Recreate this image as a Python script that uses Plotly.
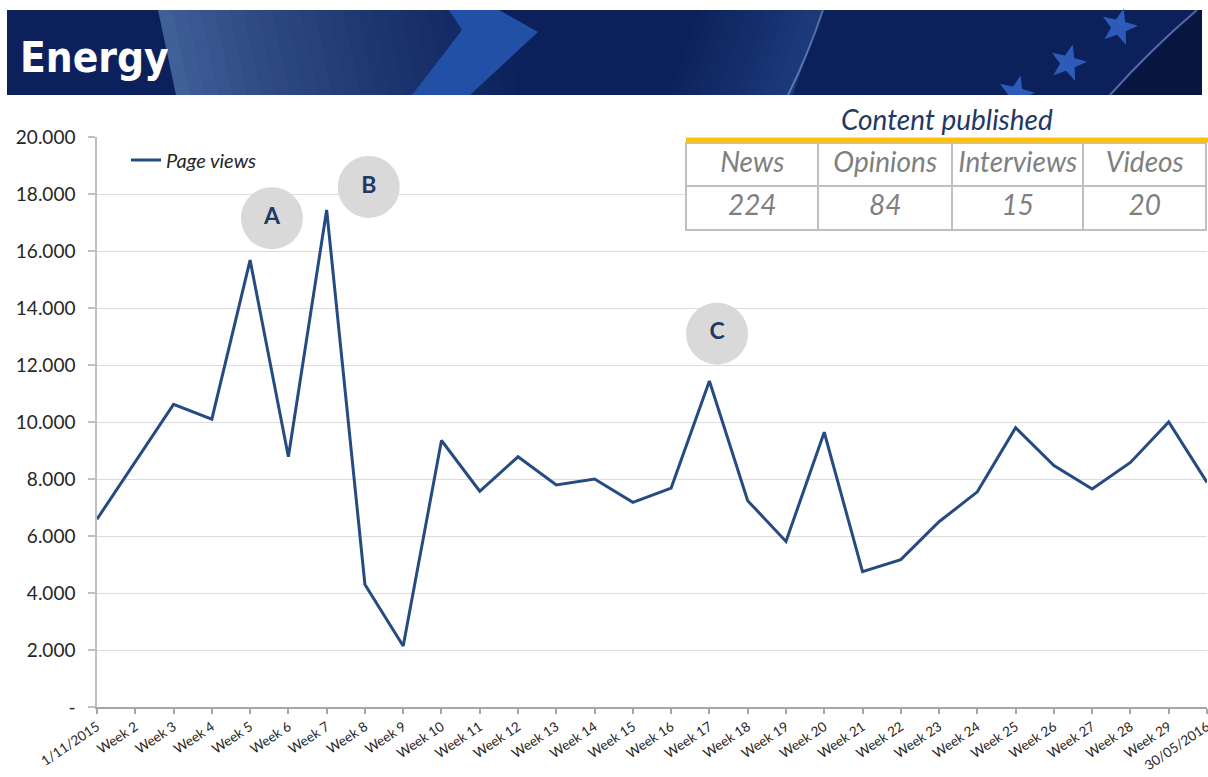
import math
import plotly.graph_objects as go

# ---------------- data ----------------
categories = ["1/11/2015", "Week 2", "Week 3", "Week 4", "Week 5", "Week 6", "Week 7",
              "Week 8", "Week 9", "Week 10", "Week 11", "Week 12", "Week 13", "Week 14",
              "Week 15", "Week 16", "Week 17", "Week 18", "Week 19", "Week 20", "Week 21",
              "Week 22", "Week 23", "Week 24", "Week 25", "Week 26", "Week 27", "Week 28",
              "Week 29", "30/05/2016"]
page_views = [6590, 8600, 10620, 10100, 15680, 8780, 17440, 4300, 2140, 9350,
              7570, 8780, 7790, 8000, 7180, 7680, 11440, 7240, 5810, 9640,
              4750, 5170, 6500, 7550, 9800, 8470, 7650, 8580, 10000, 7880]
y_tickvals = [0, 2000, 4000, 6000, 8000, 10000, 12000, 14000, 16000, 18000, 20000]
y_ticktext = ["-", "2.000", "4.000", "6.000", "8.000", "10.000", "12.000", "14.000",
              "16.000", "18.000", "20.000"]
content_types = ["News", "Opinions", "Interviews", "Videos"]
content_counts = [224, 84, 15, 20]
callout_labels = ["A", "B", "C"]
callout_x = [4.57, 7.1, 16.2]
callout_y = [17150, 18250, 13100]

# ---------------- geometry helpers (pixel -> paper) ----------------
W, H = 1208, 777
L, R, T, B = 97, 1207, 137, 707


def px(x):
    return (x - L) / (R - L)


def py(y):
    return (B - y) / (B - T)


def P(x, y):
    return f"{px(x):.5f},{py(y):.5f}"


def poly(points):
    return "M " + " L ".join(P(x, y) for x, y in points) + " Z"


def mix(c1, c2, t):
    a = [int(c1[i:i + 2], 16) for i in (1, 3, 5)]
    b = [int(c2[i:i + 2], 16) for i in (1, 3, 5)]
    return "#" + "".join(f"{int(round(a[k] + (b[k] - a[k]) * t)):02x}" for k in range(3))


def clip_below(points, ymax):
    out = []
    n = len(points)
    for i in range(n):
        cur, nxt = points[i], points[(i + 1) % n]
        cin, nin = cur[1] <= ymax, nxt[1] <= ymax
        if cin:
            out.append(cur)
        if cin != nin:
            t = (ymax - cur[1]) / (nxt[1] - cur[1])
            out.append((cur[0] + t * (nxt[0] - cur[0]), ymax))
    return out


def star(cx, cy, r, rot=0.25):
    pts = []
    for k in range(10):
        rr = r if k % 2 == 0 else r * 0.42
        a = -math.pi / 2 + rot + k * math.pi / 5
        pts.append((cx + rr * math.cos(a), cy + rr * math.sin(a)))
    return pts


shapes = []
BX0, BX1, BY0, BY1 = 7, 1202, 10, 95
base = "#0c215c"
shapes.append(dict(type="rect", xref="paper", yref="paper", x0=px(BX0), x1=px(BX1),
                   y0=py(BY1), y1=py(BY0), fillcolor=base, line=dict(width=0)))
# light gradient sweep on the left
n = 24
x_start, x_end, slant = 158, 500, 18
for i in range(n):
    xa = x_start + (x_end - x_start) * i / n
    xb = x_start + (x_end - x_start) * (i + 1) / n + 0.6
    col = mix("#40609a", base, (i / n) ** 0.8)
    shapes.append(dict(type="path", xref="paper", yref="paper",
                       path=poly([(xa, BY0), (xb, BY0), (xb + slant, BY1), (xa + slant, BY1)]),
                       fillcolor=col, line=dict(width=0)))
# subtle lighter band in the middle
n2 = 14
for i in range(n2):
    xa = 690 + (822 - 690) * i / n2
    xb = 690 + (822 - 690) * (i + 1) / n2 + 0.6
    col = mix(base, "#1d3c7c", i / n2)
    shapes.append(dict(type="path", xref="paper", yref="paper",
                       path=poly([(xa, BY0), (xb, BY0), (xb - 30, BY1), (xa - 30, BY1)]),
                       fillcolor=col, line=dict(width=0)))
# dark right end
shapes.append(dict(type="path", xref="paper", yref="paper",
                   path=poly([(1196, BY0), (BX1, BY0), (BX1, BY1), (1110, BY1)]),
                   fillcolor="#08163f", line=dict(width=0)))
# bright chevron
shapes.append(dict(type="path", xref="paper", yref="paper",
                   path=poly([(449, BY0), (499, BY0), (538, 32), (470, BY1), (412, BY1), (462, 30)]),
                   fillcolor="#2150a6", line=dict(width=0)))
# light streaks
shapes.append(dict(type="path", xref="paper", yref="paper",
                   path=f"M {P(823, BY0)} Q {P(808, 55)} {P(788, BY1)}",
                   line=dict(color="rgba(140,170,225,0.55)", width=2)))
shapes.append(dict(type="path", xref="paper", yref="paper",
                   path=f"M {P(1197, BY0)} Q {P(1150, 50)} {P(1110, BY1)}",
                   line=dict(color="rgba(140,170,225,0.55)", width=2)))
# stars
for cx, cy in [(1119, 27), (1068, 63), (1016, 94)]:
    pts = clip_below(star(cx, cy, 19), BY1)
    shapes.append(dict(type="path", xref="paper", yref="paper", path=poly(pts),
                       fillcolor="#2d5bb9", line=dict(width=0)))
# orange rule on the table
shapes.append(dict(type="line", xref="paper", yref="paper", x0=px(686), x1=px(1208),
                   y0=py(140), y1=py(140), line=dict(color="#FFC000", width=5)))

fig = go.Figure()
fig.add_trace(go.Scatter(x=categories, y=page_views, mode="lines", name="Page views",
                         line=dict(color="#264b80", width=3)))
fig.add_trace(go.Scatter(x=callout_x, y=callout_y, xaxis="x2", mode="markers+text",
                         text=callout_labels, textposition="middle center",
                         marker=dict(size=62, color="#d9d9d9"),
                         textfont=dict(family="Lato, Noto Sans, sans-serif", size=23,
                                       color="#1f3864", weight="bold"),
                         showlegend=False, hoverinfo="skip", cliponaxis=False))
fig.add_trace(go.Table(
    domain=dict(x=[px(686), px(1206)], y=[py(234), py(143)]),
    columnwidth=[133, 134, 132, 123],
    header=dict(values=content_types, height=43, align="center",
                fill=dict(color="white"), line=dict(color="#c0c0c0", width=2),
                font=dict(family="Lato, Noto Sans, sans-serif", size=28, color="#7f7f7f",
                          style="italic")),
    cells=dict(values=[[v] for v in content_counts], height=44, align="center",
               fill=dict(color="white"), line=dict(color="#c0c0c0", width=2),
               font=dict(family="Lato, Noto Sans, sans-serif", size=28, color="#7f7f7f",
                         style="italic")),
))

fig.update_layout(
    width=W, height=H, autosize=False,
    margin=dict(l=L, r=W - R, t=T, b=H - B, pad=0),
    paper_bgcolor="white", plot_bgcolor="white",
    font=dict(family="Lato, Noto Sans, sans-serif", color="#262626"),
    shapes=shapes,
    showlegend=True,
    legend=dict(x=px(126), y=py(160), xanchor="left", yanchor="middle",
                bgcolor="rgba(0,0,0,0)",
                font=dict(size=20, style="italic", color="#262626")),
    xaxis=dict(type="category", range=[0, len(categories) - 1], showgrid=False,
               showline=True, linecolor="#a6a6a6", linewidth=1.5, automargin=False,
               ticks="outside", ticklen=5, tickcolor="#a6a6a6", tickwidth=1.5,
               tickangle=-34, tickfont=dict(size=13.5, color="#262626"), zeroline=False,
               ticklabelstandoff=0),
    xaxis2=dict(overlaying="x", range=[0, len(categories) - 1], visible=False),
    yaxis=dict(range=[0, 20000], tickvals=y_tickvals, ticktext=y_ticktext,
               showgrid=True, gridcolor="#dcdcdc", gridwidth=1, automargin=False,
               showline=True, linecolor="#bfbfbf", linewidth=1.5,
               ticks="outside", ticklen=7, tickcolor="#bfbfbf", tickwidth=1.5,
               tickfont=dict(size=19, color="#262626"), zeroline=False,
               ticklabelstandoff=9),
    annotations=[
        dict(xref="paper", yref="paper", x=px(18), y=py(57), xanchor="left", yanchor="middle",
             text="<b>Energy</b>", showarrow=False,
             font=dict(family="Noto Sans ExtraCondensed, Noto Sans Condensed, DejaVu Sans Condensed, sans-serif",
                       size=42, color="white")),
        dict(xref="paper", yref="paper", x=px(947), y=py(119), xanchor="center",
             yanchor="middle", text="Content published", showarrow=False,
             font=dict(family="Lato, Noto Sans, sans-serif", size=28, color="#1f3864",
                       style="italic")),
    ],
)

fig.write_html("out.html", config={"displayModeBar": False, "responsive": False},
               post_script="document.body.style.margin='0px';")
